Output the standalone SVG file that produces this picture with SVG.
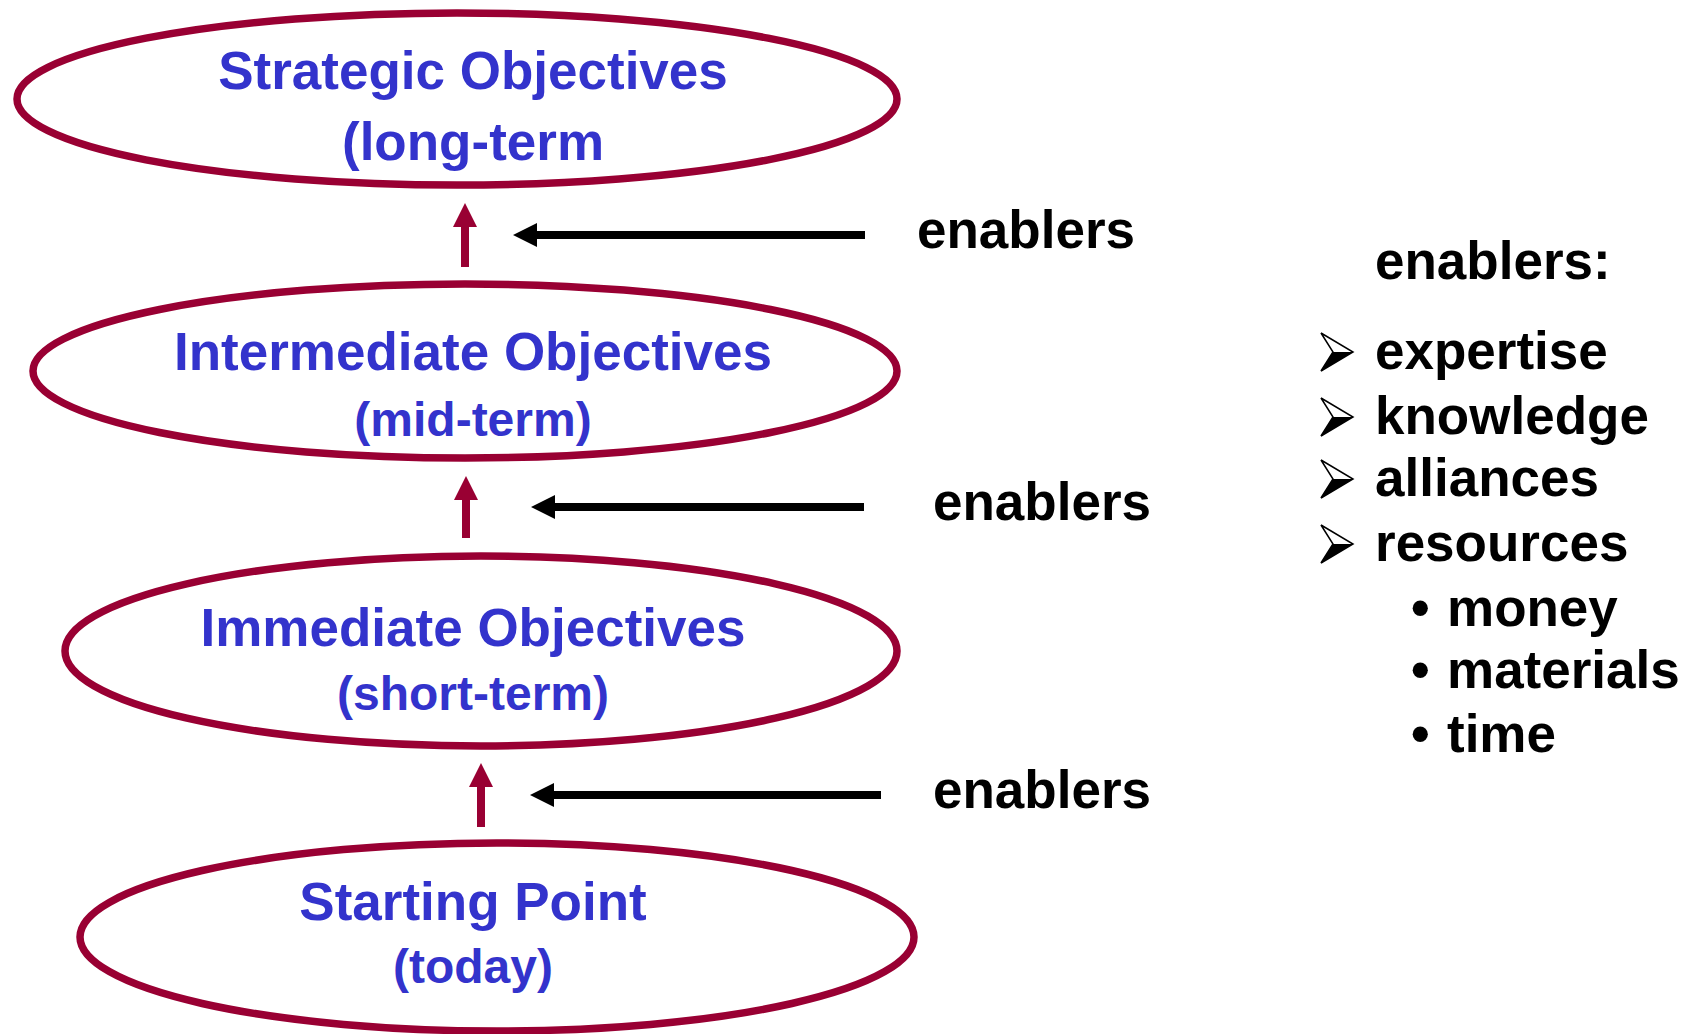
<svg xmlns="http://www.w3.org/2000/svg" width="1698" height="1034" viewBox="0 0 1698 1034">
<style>
.node ellipse{fill:#fff;stroke:#990033;stroke-width:7.5}
.t{font-family:"Liberation Sans",Arial,sans-serif;font-weight:bold;fill:#3333CC;text-anchor:middle}
.k{font-family:"Liberation Sans",Arial,sans-serif;font-weight:bold;fill:#000;font-size:53px}
.red{fill:#990033}
.blk{fill:#000}
</style>
<rect width="1698" height="1034" fill="#fff"/>
<g id="node-strategic" class="node">
<ellipse cx="457" cy="99" rx="440" ry="86"/>
<text class="t" x="473" y="89" font-size="53">Strategic Objectives</text>
<text class="t" x="473" y="160" font-size="53">(long-term</text>
</g>
<g id="node-intermediate" class="node">
<ellipse cx="465" cy="371" rx="432" ry="87"/>
<text class="t" x="473" y="370" font-size="53">Intermediate Objectives</text>
<text class="t" x="473" y="436" font-size="48">(mid-term)</text>
</g>
<g id="node-immediate" class="node">
<ellipse cx="481" cy="651" rx="416" ry="95"/>
<text class="t" x="473" y="646" font-size="53">Immediate Objectives</text>
<text class="t" x="473" y="710" font-size="48">(short-term)</text>
</g>
<g id="node-start" class="node">
<ellipse cx="497" cy="937" rx="417" ry="94"/>
<text class="t" x="473" y="920" font-size="53">Starting Point</text>
<text class="t" x="473" y="983" font-size="48">(today)</text>
</g>
<g id="connectors">
<path class="red" d="M461,267 V227 H453 L465,203 L477,227 H469 V267 Z"/>
<path class="red" d="M462,538 V500 H454 L466,476 L478,500 H470 V538 Z"/>
<path class="red" d="M477,827 V787 H469 L481,763 L493,787 H485 V827 Z"/>
<path class="blk" d="M865,231 H537 V223 L513,235 L537,247 V239 H865 Z"/>
<path class="blk" d="M864,503 H555 V495 L531,507 L555,519 V511 H864 Z"/>
<path class="blk" d="M881,791 H554 V783 L530,795 L554,807 V799 H881 Z"/>
</g>
<g id="enabler-labels">
<text class="k" x="917" y="248">enablers</text>
<text class="k" x="933" y="520">enablers</text>
<text class="k" x="933" y="808">enablers</text>
</g>
<g id="enablers-list">
<text class="k" x="1375" y="279">enablers:</text>
<defs>
<g id="chev">
<path d="M0,0 L32,19 L0,38 L12,19 Z" fill="#fff" stroke="#000" stroke-width="1.5" stroke-linejoin="miter"/>
<path d="M12,19 L32,19 L0,38 Z" fill="#000"/>
</g>
</defs>
<use href="#chev" x="1321" y="333"/>
<use href="#chev" x="1321" y="398"/>
<use href="#chev" x="1321" y="460"/>
<use href="#chev" x="1321" y="525"/>
<text class="k" x="1375" y="369">expertise</text>
<text class="k" x="1375" y="434">knowledge</text>
<text class="k" x="1375" y="496">alliances</text>
<text class="k" x="1375" y="561">resources</text>
<text class="k" x="1411" y="626">•</text>
<text class="k" x="1447" y="626">money</text>
<text class="k" x="1411" y="688">•</text>
<text class="k" x="1447" y="688">materials</text>
<text class="k" x="1411" y="752">•</text>
<text class="k" x="1447" y="752">time</text>
</g>
</svg>
